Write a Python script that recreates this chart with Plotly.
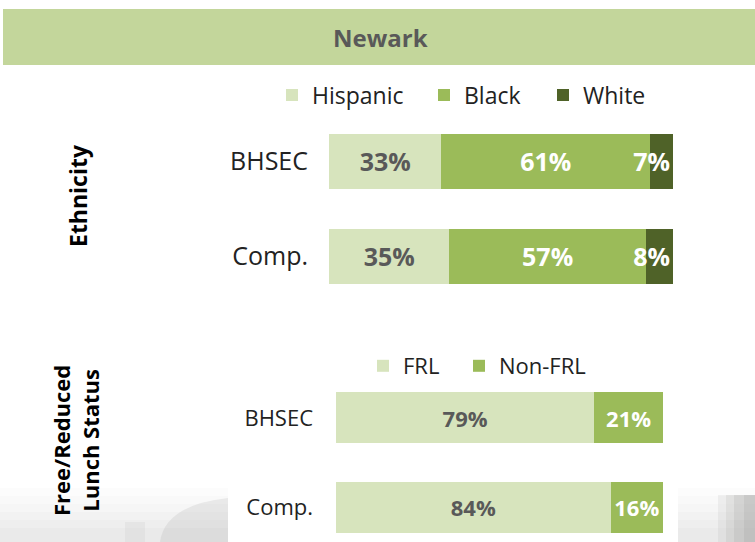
import plotly.graph_objects as go

# Newark demographic comparison: BHSEC vs comparison schools
schools = ["BHSEC", "Comp."]

eth_groups = ["Hispanic", "Black", "White"]
eth_hispanic = [32.7, 35.0]
eth_black = [60.6, 57.1]
eth_white = [6.7, 7.9]

frl_groups = ["FRL", "Non-FRL"]
frl_yes = [79, 84]
frl_no = [21, 16]

LIGHT = "#D7E4BD"
MID = "#9BBB59"
DARK = "#4F6228"
HEADER = "#C3D69B"
GREY_TEXT = "#595959"
INK = "#222222"
FONT = "Open Sans, Noto Sans, sans-serif"

W, H = 755, 542


def px(x):
    return x / W


def py(y):
    return 1 - y / H


fig = go.Figure()

# Ethnicity bars
eth_series = [eth_hispanic, eth_black, eth_white]
eth_colors = [LIGHT, MID, DARK]
eth_text = [GREY_TEXT, "white", "white"]
eth_anchor = ["middle", "middle", "end"]
eth_legw = [107, 74, 70]
for name, vals, col, tcol, anchor, lw in zip(
    eth_groups, eth_series, eth_colors, eth_text, eth_anchor, eth_legw
):
    fig.add_trace(
        go.Bar(
            y=schools,
            x=vals,
            orientation="h",
            name=name,
            marker=dict(color=col, line=dict(width=0)),
            texttemplate="%{x:.0f}%",
            textposition="inside",
            insidetextanchor=anchor,
            textangle=0,
            constraintext="none",
            textfont=dict(family=FONT, size=25, color=tcol, weight=700),
            legend="legend",
            legendwidth=lw,
            xaxis="x",
            yaxis="y",
            hoverinfo="skip",
        )
    )

# Free/reduced lunch bars
frl_series = [frl_yes, frl_no]
frl_colors = [LIGHT, MID]
frl_text = [GREY_TEXT, "white"]
frl_legw = [51, 90]
for name, vals, col, tcol, lw in zip(frl_groups, frl_series, frl_colors, frl_text, frl_legw):
    fig.add_trace(
        go.Bar(
            y=schools,
            x=vals,
            orientation="h",
            name=name,
            marker=dict(color=col, line=dict(width=0)),
            texttemplate="%{x:.0f}%",
            textposition="inside",
            insidetextanchor="middle",
            textangle=0,
            constraintext="none",
            textfont=dict(family=FONT, size=22, color=tcol, weight=700),
            legend="legend2",
            legendwidth=lw,
            xaxis="x2",
            yaxis="y2",
            hoverinfo="skip",
        )
    )

shapes = [
    # header band
    dict(type="rect", xref="paper", yref="paper", x0=px(3), x1=1, y0=py(65), y1=py(9),
         fillcolor=HEADER, line=dict(width=0), layer="below"),
]

# faded photo in the background, bottom corners
for y0, op in [(488, 0.03), (496, 0.03), (504, 0.03), (512, 0.04), (520, 0.04), (528, 0.04)]:
    shapes.append(dict(type="rect", xref="paper", yref="paper", x0=0, x1=px(228),
                       y0=0, y1=py(y0), fillcolor="#9a9a9a", opacity=op,
                       line=dict(width=0), layer="below"))
    shapes.append(dict(type="rect", xref="paper", yref="paper", x0=px(678), x1=1,
                       y0=0, y1=py(y0), fillcolor="#9a9a9a", opacity=op,
                       line=dict(width=0), layer="below"))
shapes.append(dict(type="path", xref="paper", yref="paper",
                   path=f"M {px(160)},0 Q {px(165)},{py(505)} {px(228)},{py(498)} L {px(228)},0 Z",
                   fillcolor="#a0a0a0", opacity=0.18, line=dict(width=0), layer="below"))
shapes.append(dict(type="rect", xref="paper", yref="paper", x0=px(125), x1=px(145),
                   y0=0, y1=py(522), fillcolor="#a0a0a0", opacity=0.1,
                   line=dict(width=0), layer="below"))
for x0, op in [(718, 0.1), (726, 0.12), (734, 0.14), (744, 0.14)]:
    shapes.append(dict(type="rect", xref="paper", yref="paper", x0=px(x0), x1=1,
                       y0=0, y1=py(495), fillcolor="#8a8a85", opacity=op,
                       line=dict(width=0), layer="below"))

annotations = [
    dict(text="<b>Newark</b>", xref="paper", yref="paper", x=px(381), y=py(38),
         xanchor="center", yanchor="middle", showarrow=False,
         font=dict(family=FONT, size=24, color=GREY_TEXT)),
    dict(text="<b>Ethnicity</b>", xref="paper", yref="paper", x=px(78), y=py(196),
         xanchor="center", yanchor="middle", showarrow=False, textangle=-90,
         font=dict(family=FONT, size=23, color="black")),
    dict(text="<b>Free/Reduced<br>Lunch Status</b>", xref="paper", yref="paper",
         x=px(75), y=py(441), xanchor="center", yanchor="middle", showarrow=False,
         textangle=-90, font=dict(family=FONT, size=22, color="black")),
]

hidden_x = dict(range=[0, 100], showgrid=False, zeroline=False, showticklabels=False,
                showline=False, fixedrange=True)

fig.update_layout(
    width=W,
    height=H,
    margin=dict(l=0, r=0, t=0, b=0),
    paper_bgcolor="white",
    plot_bgcolor="rgba(0,0,0,0)",
    barmode="stack",
    bargap=0.43,
    font=dict(family=FONT, color=INK),
    shapes=shapes,
    annotations=annotations,
    xaxis=dict(domain=[px(329), px(673)], anchor="y", **hidden_x),
    yaxis=dict(domain=[py(304), py(114)], anchor="x", type="category",
               range=[1.5, -0.5], showgrid=False, zeroline=False, showline=False,
               ticks="", ticklabelstandoff=20, tickfont=dict(size=25, color=INK)),
    xaxis2=dict(domain=[px(336), px(663)], anchor="y2", **hidden_x),
    yaxis2=dict(domain=[0, py(373)], anchor="x2", type="category",
                range=[1.385, -0.5], showgrid=False, zeroline=False, showline=False,
                ticks="", ticklabelstandoff=22, tickfont=dict(size=22, color=INK)),
    legend=dict(orientation="h", x=px(272), y=py(95), xanchor="left", yanchor="middle",
                bgcolor="rgba(0,0,0,0)", font=dict(size=23, color=INK),
                traceorder="normal"),
    legend2=dict(orientation="h", x=px(363), y=py(366), xanchor="left", yanchor="middle",
                 bgcolor="rgba(0,0,0,0)", font=dict(size=22, color=INK),
                 traceorder="normal"),
)

# the page body has a default 8px margin; drop it so the figure fills the window
fig.write_html(
    "out.html",
    config={"displayModeBar": False},
    post_script="document.body.style.margin='0';",
)
